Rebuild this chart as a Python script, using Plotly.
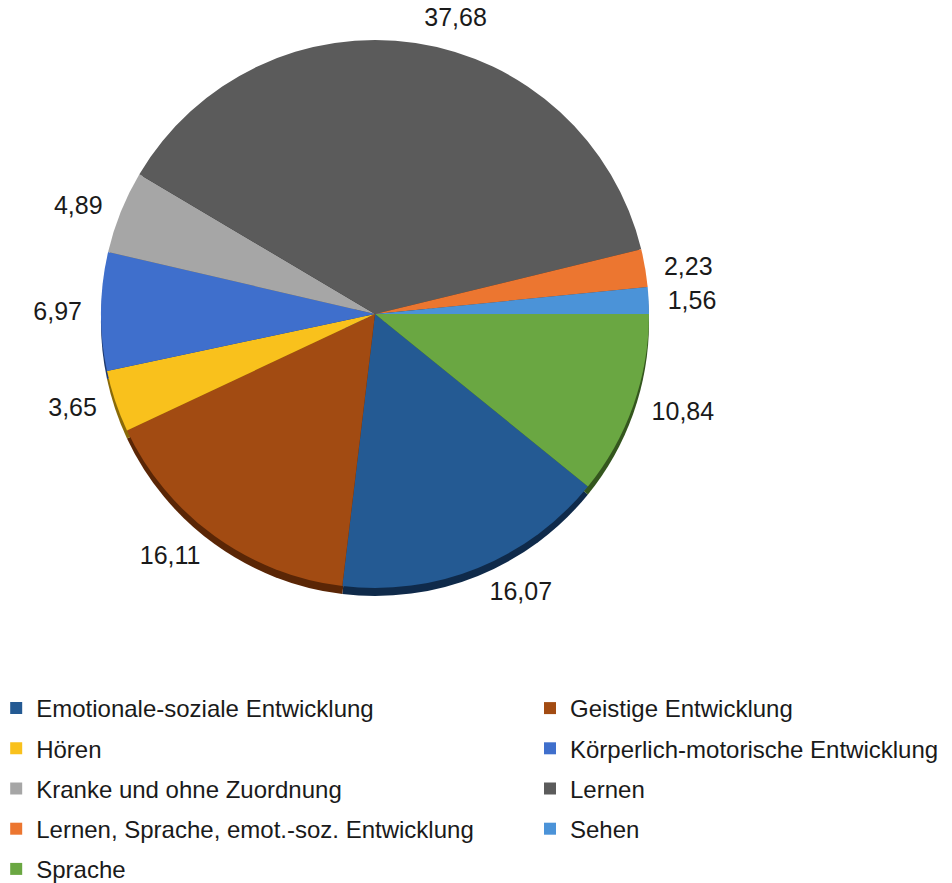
import plotly.graph_objects as go

labels = [
    "Emotionale-soziale Entwicklung",
    "Geistige Entwicklung",
    "Hören",
    "Körperlich-motorische Entwicklung",
    "Kranke und ohne Zuordnung",
    "Lernen",
    "Lernen, Sprache, emot.-soz. Entwicklung",
    "Sehen",
    "Sprache",
]
values = [16.07, 16.11, 3.65, 6.97, 4.89, 37.68, 2.23, 1.56, 10.84]
value_text = [f"{v:.2f}".replace(".", ",") for v in values]
colors = ["#245a93", "#a24b12", "#f9c11c", "#3f6fcc", "#a6a6a6",
          "#5b5b5b", "#ec7630", "#4b93d8", "#6aa742"]
shadow_colors = ["#0f2a4a", "#5a2606", "#8a6a08", "#1f3a6e", "#5a5a5a",
                 "#2e2e2e", "#7a3a14", "#244c74", "#34561e"]

W, H = 952, 883
cx, cy, r = 375, 314, 274
FONT = "Liberation Sans, Arial"

def dom(dy=0, rr=r):
    return dict(x=[(cx - rr) / W, (cx + rr) / W],
                y=[(H - (cy + dy) - rr) / H, (H - (cy + dy) + rr) / H])

fig = go.Figure()
# transparent carrier for the value labels (sits slightly outside the pie)
fig.add_trace(go.Pie(
    labels=labels, values=values, text=value_text, sort=False,
    direction="clockwise", rotation=129,
    marker=dict(colors=["rgba(0,0,0,0)"] * len(values), line=dict(width=0)),
    textinfo="text", textposition="outside",
    outsidetextfont=dict(size=25, color="#1a1a1a", family=FONT),
    hoverinfo="skip", showlegend=False, domain=dom(0, r + 12),
))
# shadow
fig.add_trace(go.Pie(
    labels=labels, values=values, sort=False, direction="clockwise",
    rotation=129, marker=dict(colors=shadow_colors, line=dict(width=0)),
    textinfo="none", hoverinfo="skip", showlegend=False, domain=dom(8),
))
# main pie
fig.add_trace(go.Pie(
    labels=labels, values=values, text=value_text, sort=False,
    direction="clockwise", rotation=129,
    marker=dict(colors=colors, line=dict(width=0)),
    textinfo="none", hovertemplate="%{label}: %{text}<extra></extra>",
    showlegend=False, domain=dom(0),
))

# legend entries (two columns, filled row by row)
for i, (lab, col) in enumerate(zip(labels, colors)):
    fig.add_trace(go.Scatter(
        x=[None], y=[None], mode="markers", name=lab, legendgroup=lab,
        marker=dict(symbol="square", size=12, color=col),
        legend="legend" if i % 2 == 0 else "legend2",
    ))

leg_common = dict(orientation="v", yanchor="top", xanchor="left",
                  font=dict(size=24, color="#1a1a1a", family=FONT),
                  tracegroupgap=6, itemwidth=30, bgcolor="rgba(0,0,0,0)")
fig.update_layout(
    width=W, height=H, margin=dict(l=0, r=0, t=0, b=0, autoexpand=False),
    paper_bgcolor="white", plot_bgcolor="white",
    font=dict(family=FONT, size=24, color="#1a1a1a"),
    xaxis=dict(visible=False), yaxis=dict(visible=False),
    legend=dict(x=-0.004, y=(H - 686) / H, **leg_common),
    legend2=dict(x=530 / W, y=(H - 686) / H, **leg_common),
)
fig.write_html("out.html")
